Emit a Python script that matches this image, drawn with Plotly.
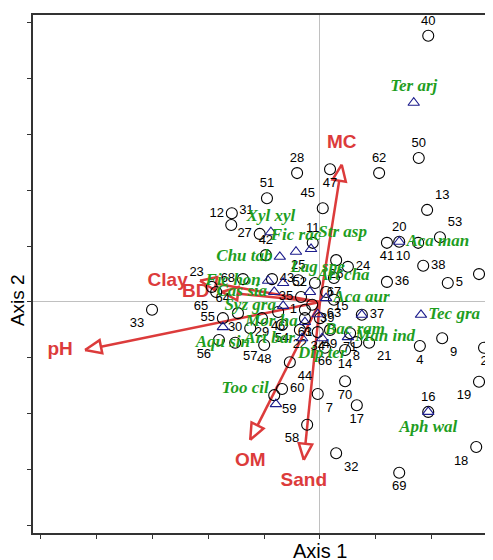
import numpy as np
import plotly.graph_objects as go

# ---- site scores (Axis 1, Axis 2) ----
site_ids = [str(i) for i in range(1, 72)]
site_x = [-0.27, 2.94, 0.00, 1.79, 2.29, 2.85, -0.04, 0.65, 2.19, 1.76,
          -0.13, -1.58, 1.92, 0.45, 0.11, 1.94, 0.66, 2.80, 2.85, 1.42,
          0.88, -0.36, -1.94, 0.50, -0.39, 0.29, -1.08, -0.41, -1.04, -1.25,
          -1.59, 0.29, -3.01, -0.04, -0.34, 1.20, 0.75, 1.85, -0.14, 1.94,
          1.20, -0.97, -0.86, -0.54, 0.05, -0.75, 0.18, -1.00, 0.18, 1.77,
          -0.95, -0.09, 2.15, -0.68, -1.74, -1.81, -1.52, -0.23, -0.82, -0.68,
          -0.27, 1.06, 0.25, -1.47, -1.86, 0.09, 0.25, -1.38, 1.42, 0.45, 0.54]
site_y = [-0.14, -0.82, -0.29, -0.79, 0.34, 0.50, -1.65, -0.72, -0.65, 1.06,
          1.06, 1.59, 1.65, -0.86, 0.18, -1.97, -1.85, -2.60, -1.43, 1.08,
          -0.73, -0.50, 0.27, 0.63, 0.39, 0.75, 1.22, 2.31, -0.29, -0.47,
          1.38, -2.71, -0.14, -0.54, 0.09, 0.36, -0.23, 0.65, -0.05, 4.77,
          1.06, 0.84, 0.41, -1.08, 1.68, -0.18, 2.38, -0.77, -0.50, 2.58,
          1.86, 0.34, 1.16, -0.41, -0.29, -0.68, -0.73, -2.20, -1.67, -1.56,
          -0.29, 2.31, 0.04, -0.20, 0.18, -0.82, 0.43, 0.41, -3.06, -1.42, -0.56]
site_label_pos = [
    "middle left", "bottom center", "bottom left", "bottom center", "middle right",
    "middle right", "bottom right", "bottom center", "bottom right", "bottom left",
    "top center", "middle left", "top right", "bottom center", "bottom right",
    "top center", "bottom center", "bottom left", "bottom left", "top center",
    "bottom right", "bottom center", "top left", "middle right", "top center",
    "bottom center", "middle left", "top center", "bottom center", "middle left",
    "top right", "bottom right", "bottom left", "bottom center", "middle left",
    "middle right", "middle right", "middle right", "bottom right", "top center",
    "bottom center", "top center", "middle right", "bottom right", "top left",
    "bottom center", "bottom center", "bottom center", "bottom center", "top center",
    "top center", "middle left", "top right", "bottom center", "middle left",
    "bottom left", "bottom right", "bottom left", "bottom right", "middle right",
    "bottom center", "top center", "bottom center", "top left", "bottom left",
    "bottom center", "bottom center", "middle left", "bottom center", "bottom center",
    "bottom center"]

# ---- species scores (last entry: unlabelled species plotted at site 37) ----
species = ["Ter arj", "Xyl xyl", "Fic rac", "Str asp", "Chu tab", "Lag spe",
           "Fic hon", "Cas sia", "Syz gra", "Art cha", "Aca aur", "Aca man",
           "Tec gra", "Bac ram", "Man ind", "Dip ter", "Mor ha", "Art bar",
           "Aqu sin", "Too cil", "Aph wal", ""]
sp_x = [1.68, -0.88, -0.43, -0.16, -0.72, -0.66, -0.93, -0.82, -0.66, -0.18,
        0.11, 1.42, 1.81, -0.04, 0.50, 0.04, -0.27, -0.32, -1.74, -0.79, 1.94, 0.75]
sp_y = [3.57, 1.25, 0.90, 0.95, 0.81, 0.34, 0.38, 0.18, -0.07, 0.18,
        0.07, 1.08, -0.23, -0.22, -0.63, -0.65, -0.36, -0.65, -0.45, -1.83, -1.97, -0.23]
sp_label_pos = ["top center", "top center", "top center", "top right", "middle left",
                "top right", "middle left", "middle left", "middle left", "top right",
                "middle right", "middle right", "middle right", "bottom right", "middle right",
                "bottom center", "middle left", "middle left", "bottom center", "top left",
                "bottom center", "middle right"]

# ---- environmental vectors ----
env_names = ["MC", "Clay", "BD", "pH", "OM", "Sand"]
env_x = [0.39, -2.15, -1.76, -4.21, -1.25, -0.29]
env_y = [2.46, 0.38, 0.18, -0.86, -2.47, -2.83]
env_label_pos = ["top center", "middle left", "middle left", "middle left",
                 "bottom center", "bottom center"]

RED = "#dc3b3b"
GREEN = "#1f9e1f"
NAVY = "#1c1c8c"

fig = go.Figure()

# arrows
head_len, head_w = 0.29, 0.12
for name, ex, ey in zip(env_names, env_x, env_y):
    fig.add_trace(go.Scatter(x=[0, ex], y=[0, ey], mode="lines",
                             line=dict(color=RED, width=2.5), hoverinfo="skip",
                             showlegend=False))
    v = np.array([ex, ey])
    u = v / np.linalg.norm(v)
    n = np.array([-u[1], u[0]])
    base = v - head_len * u
    p1 = base + head_w * n
    p2 = base - head_w * n
    fig.add_trace(go.Scatter(x=[v[0], p1[0], p2[0], v[0]], y=[v[1], p1[1], p2[1], v[1]],
                             mode="lines", fill="toself", fillcolor="white",
                             line=dict(color=RED, width=2.5), hoverinfo="skip",
                             showlegend=False))

fig.add_trace(go.Scatter(x=env_x, y=env_y, mode="markers+text", text=env_names,
                         textposition=env_label_pos,
                         marker=dict(size=18, color="rgba(0,0,0,0)"),
                         textfont=dict(family="Liberation Sans, Arial", size=19,
                                       color=RED, weight="bold"),
                         showlegend=False, hoverinfo="skip"))

# sites
fig.add_trace(go.Scatter(x=site_x, y=site_y, mode="markers+text", text=site_ids,
                         textposition=site_label_pos,
                         marker=dict(symbol="circle-open", size=11, color="black",
                                     line=dict(width=1.1, color="black")),
                         textfont=dict(family="Liberation Sans, Arial", size=13, color="black"),
                         showlegend=False))

# species
fig.add_trace(go.Scatter(x=sp_x, y=sp_y, mode="markers+text", text=species,
                         textposition=sp_label_pos,
                         marker=dict(symbol="triangle-up-open", size=10, color=NAVY,
                                     line=dict(width=1.1, color=NAVY)),
                         textfont=dict(family="Liberation Serif, Times New Roman", size=17,
                                       color=GREEN, weight="bold", style="italic"),
                         showlegend=False))

fig.update_layout(
    width=493, height=560,
    margin=dict(l=25, r=0, t=7, b=35),
    plot_bgcolor="white", paper_bgcolor="white",
    xaxis=dict(range=[-5.143, 3.244], dtick=1, tick0=0, showgrid=False,
               zeroline=True, zerolinecolor="#c0c0c0", zerolinewidth=1,
               showline=True, linecolor="#333", linewidth=1.6, mirror=True,
               ticks="outside", ticklen=4, tickcolor="#333", showticklabels=False),
    yaxis=dict(range=[-4.14, 5.143], dtick=1, tick0=0, showgrid=False,
               zeroline=True, zerolinecolor="#c0c0c0", zerolinewidth=1,
               showline=True, linecolor="#333", linewidth=1.6,
               ticks="outside", ticklen=4, tickcolor="#333", showticklabels=False),
    annotations=[
        dict(text="Axis 1", x=0.613, y=-0.01, xref="paper", yref="paper",
             showarrow=False, font=dict(family="Liberation Sans, Arial", size=20, color="black"),
             xanchor="center", yanchor="top"),
        dict(text="Axis 2", x=-0.005, y=0.45, xref="paper", yref="paper", textangle=-90,
             showarrow=False, font=dict(family="Liberation Sans, Arial", size=19, color="black"),
             xanchor="right", yanchor="middle"),
    ],
)

fig.write_html("out.html")
